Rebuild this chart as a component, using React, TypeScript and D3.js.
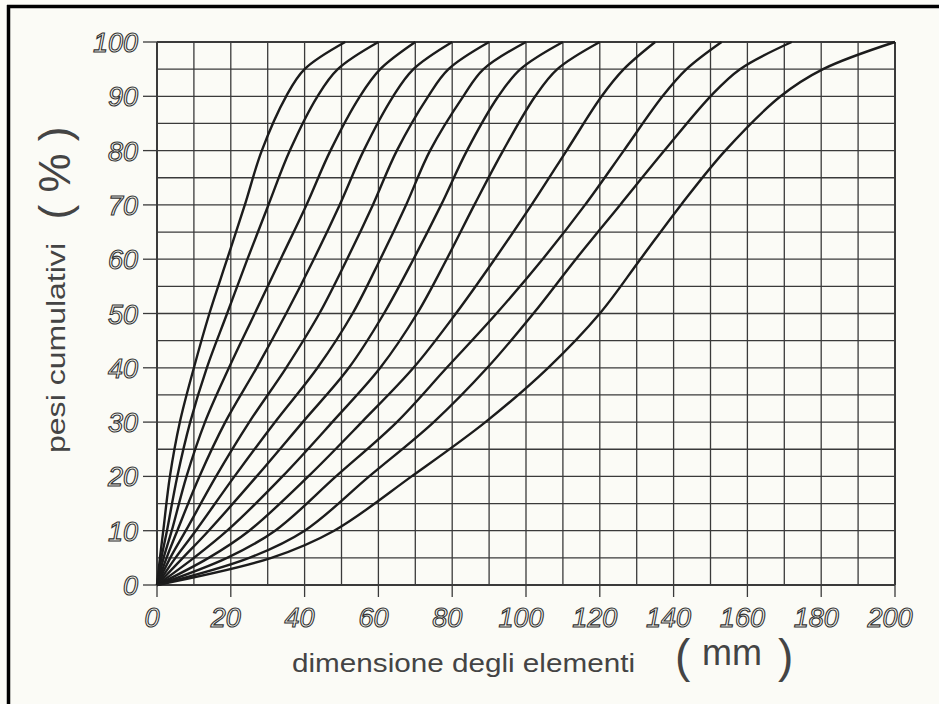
import React, { useEffect, useRef } from "react";
import * as d3 from "d3";

// cumulative weight levels (%) at which each curve was read
const levels = [0, 5, 10, 20, 30, 40, 50, 60, 70, 80, 90, 95, 100];

// element size (mm) reached by each curve at the levels above
const curve1 = [0, 0.8, 1.7, 3.5, 6.2, 10, 14.2, 19, 23.8, 28.4, 35, 40, 51];
const curve2 = [0, 1.2, 2.7, 5.5, 9, 13.5, 19, 24.5, 30.2, 36, 43.5, 49, 60];
const curve3 = [0, 1.8, 4, 8, 13, 19.5, 26.5, 33.5, 40.5, 47, 55, 60.5, 70];
const curve4 = [0, 2.6, 5.5, 11.5, 18.5, 27, 35, 42.5, 49.5, 56, 64, 69.5, 80];
const curve5 = [0, 3.6, 7.8, 16, 25, 35, 44, 51.5, 58.5, 65, 73.5, 79, 90];
const curve6 = [0, 5, 10.5, 21, 32, 43.5, 53, 60.5, 67.5, 74, 83, 88.5, 100];
const curve7 = [0, 7, 14, 27, 39.5, 52, 61.5, 69.5, 77, 84, 92.5, 98.5, 110];
const curve8 = [0, 10, 19, 34, 47.5, 60.5, 70.5, 78.5, 86, 93.8, 102.5, 108.5, 120];
const curve9 = [0, 14, 25, 41, 55.5, 69.5, 81, 91.5, 101.5, 111, 120.5, 126.5, 135];
const curve10 = [0, 19, 32, 48.5, 65, 78.5, 92, 104.5, 116, 126.5, 137, 143.5, 153];
const curve11 = [0, 25, 40, 57.5, 75, 89.5, 102, 113.5, 125.5, 137.5, 150, 158, 172];
const curve12 = [0, 31, 48, 69, 89, 106, 120, 131, 142, 154, 169, 180.5, 200];

const curves = [curve1, curve2, curve3, curve4, curve5, curve6, curve7, curve8, curve9, curve10, curve11, curve12];

const xTicks = [0, 20, 40, 60, 80, 100, 120, 140, 160, 180, 200];
const yTicks = [0, 10, 20, 30, 40, 50, 60, 70, 80, 90, 100];

const width = 939;
const height = 704;

const App = () => {
  const svgRef = useRef(null);

  useEffect(() => {
    const svg = d3.select(svgRef.current);
    svg.selectAll("*").remove();

    const x = d3.scaleLinear().domain([0, 200]).range([157, 895]);
    const y = d3.scaleLinear().domain([0, 100]).range([585, 42]);

    // paper
    svg.append("rect").attr("width", width).attr("height", height).attr("fill", "#fbfbf6");

    // frame (only top and left edges show)
    svg.append("line").attr("x1", 7).attr("x2", width).attr("y1", 6.5).attr("y2", 6.5)
      .attr("stroke", "#000").attr("stroke-width", 3.5);
    svg.append("line").attr("x1", 8.5).attr("x2", 8.5).attr("y1", 5).attr("y2", height)
      .attr("stroke", "#000").attr("stroke-width", 3.5);

    const grid = svg.append("g").attr("stroke", "#3a3a3a").attr("stroke-width", 1.3);
    grid.selectAll("line.v")
      .data(d3.range(0, 201, 10))
      .join("line")
      .attr("class", "v")
      .attr("x1", (d) => x(d)).attr("x2", (d) => x(d))
      .attr("y1", y(0)).attr("y2", y(100))
      .attr("stroke-width", (d) => (d === 0 || d === 200 ? 2 : 1.3));
    grid.selectAll("line.h")
      .data(d3.range(0, 101, 5))
      .join("line")
      .attr("class", "h")
      .attr("x1", x(0)).attr("x2", x(200))
      .attr("y1", (d) => y(d)).attr("y2", (d) => y(d))
      .attr("stroke-width", (d) => (d === 0 || d === 100 ? 2 : 1.3));

    // ticks
    grid.selectAll("line.yt")
      .data(yTicks)
      .join("line")
      .attr("class", "yt")
      .attr("x1", 143).attr("x2", x(0))
      .attr("y1", (d) => y(d)).attr("y2", (d) => y(d));
    grid.selectAll("line.xt")
      .data(xTicks)
      .join("line")
      .attr("class", "xt")
      .attr("x1", (d) => x(d)).attr("x2", (d) => x(d))
      .attr("y1", y(0)).attr("y2", 597);

    // tick labels, hollow italic like the stencil lettering
    const labelStyle = (sel) =>
      sel
        .attr("font-family", "Liberation Sans, sans-serif")
        .attr("font-style", "italic")
        .attr("font-size", 27)
        .attr("fill", "none")
        .attr("stroke", "#333")
        .attr("stroke-width", 1.1);

    svg.append("g")
      .selectAll("text")
      .data(yTicks)
      .join("text")
      .attr("x", 138)
      .attr("y", (d) => y(d) + 10)
      .attr("text-anchor", "end")
      .call(labelStyle)
      .text((d) => d);

    svg.append("g")
      .selectAll("text")
      .data(xTicks)
      .join("text")
      .attr("x", (d) => x(d) - 5)
      .attr("y", 627)
      .attr("text-anchor", "middle")
      .call(labelStyle)
      .text((d) => d);

    // curves
    const line = d3
      .line()
      .x((d) => x(d[0]))
      .y((d) => y(d[1]))
      .curve(d3.curveCatmullRom.alpha(0.5));

    svg.append("g")
      .attr("fill", "none")
      .attr("stroke", "#1c1c1c")
      .attr("stroke-width", 2.4)
      .attr("stroke-linejoin", "round")
      .selectAll("path")
      .data(curves)
      .join("path")
      .attr("d", (c) => line(c.map((v, i) => [v, levels[i]])));

    // axis titles
    const titleFont = "Liberation Sans, sans-serif";
    svg.append("text")
      .attr("x", 292).attr("y", 672)
      .attr("font-family", titleFont).attr("font-size", 26)
      .attr("fill", "#444")
      .attr("textLength", 343).attr("lengthAdjust", "spacingAndGlyphs")
      .text("dimensione degli elementi");
    svg.append("text")
      .attr("x", 675).attr("y", 672)
      .attr("font-family", titleFont).attr("font-size", 46)
      .attr("fill", "#444")
      .text("(");
    svg.append("text")
      .attr("x", 702).attr("y", 665)
      .attr("font-family", titleFont).attr("font-size", 36)
      .attr("fill", "#444")
      .text("mm");
    svg.append("text")
      .attr("x", 778).attr("y", 672)
      .attr("font-family", titleFont).attr("font-size", 46)
      .attr("fill", "#444")
      .text(")");

    svg.append("text")
      .attr("transform", "translate(65,348) rotate(-90)")
      .attr("text-anchor", "middle")
      .attr("font-family", titleFont).attr("font-size", 26)
      .attr("fill", "#444")
      .attr("textLength", 210).attr("lengthAdjust", "spacingAndGlyphs")
      .text("pesi cumulativi");
    svg.append("text")
      .attr("transform", "translate(70,173) rotate(-90)")
      .attr("text-anchor", "middle")
      .attr("font-family", titleFont).attr("font-size", 44)
      .attr("fill", "#444")
      .text("( % )");
  }, []);

  return (
    <svg
      ref={svgRef}
      width={width}
      height={height}
      style={{ position: "absolute", left: 0, top: 0 }}
    />
  );
};

export default App;
